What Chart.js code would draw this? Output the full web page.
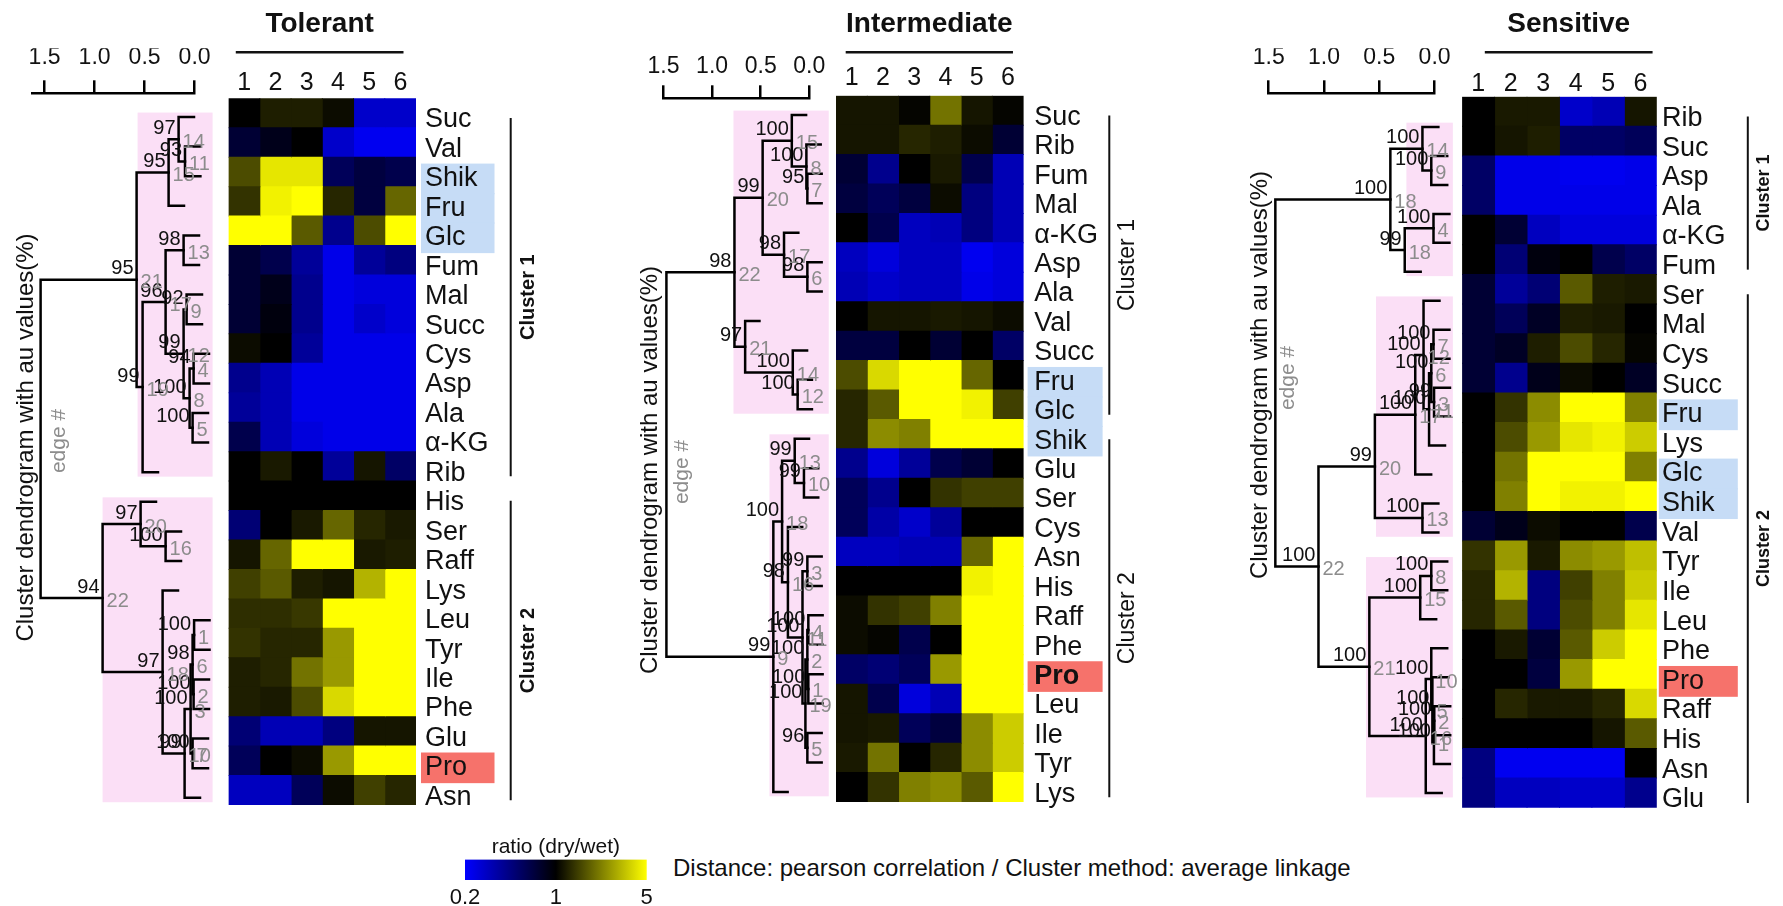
<!DOCTYPE html>
<html><head><meta charset="utf-8">
<script src="https://cdn.jsdelivr.net/npm/chart.js@4.4.1/dist/chart.umd.min.js"></script>
<style>
html,body{margin:0;padding:0;background:#fff;width:1783px;height:906px;overflow:hidden;}
#note{position:absolute;left:673px;top:854px;font:24px 'Liberation Sans',Arial,sans-serif;color:#111;white-space:nowrap;line-height:28px;}
</style></head><body>
<div id="note">Distance: pearson correlation / Cluster method: average linkage</div>
<script>
// ---------------- DATA ----------------
const colLabels = [1, 2, 3, 4, 5, 6];
const distTicks = [0, 0.5, 1.0, 1.5];
const legendTicks = [0.2, 1, 5];

const tolRows = ['Suc','Val','Shik','Fru','Glc','Fum','Mal','Succ','Cys','Asp','Ala','α-KG','Rib','His','Ser','Raff','Lys','Leu','Tyr','Ile','Phe','Glu','Pro','Asn'];
const tolValues = [
 [1.00,1.21,1.21,1.08,0.28,0.28],[0.72,0.85,1.00,0.28,0.22,0.22],[1.62,4.26,4.26,0.57,0.67,0.62],
 [1.38,4.61,5.00,1.27,0.67,1.90],[5.00,5.00,1.76,0.41,1.62,5.00],[0.72,0.62,0.38,0.23,0.38,0.45],
 [0.72,0.85,0.41,0.23,0.25,0.25],[0.72,0.92,0.41,0.23,0.28,0.25],[1.08,1.00,0.38,0.23,0.23,0.23],
 [0.41,0.32,0.23,0.23,0.23,0.23],[0.38,0.32,0.23,0.23,0.23,0.23],[0.62,0.32,0.25,0.23,0.23,0.23],
 [1.00,1.17,1.00,0.38,1.14,0.53],[1.00,1.00,1.00,1.00,1.00,1.00],[0.48,1.00,1.17,1.90,1.27,1.17],
 [1.14,1.90,5.00,5.00,1.17,1.21],[1.50,1.76,1.21,1.14,3.09,5.00],[1.34,1.34,1.42,5.00,5.00,5.00],
 [1.38,1.27,1.27,2.63,5.00,5.00],[1.21,1.27,2.06,2.63,5.00,5.00],[1.21,1.17,1.62,3.93,5.00,5.00],
 [0.48,0.32,0.32,0.45,1.14,1.14],[0.57,1.00,1.08,2.63,5.00,5.00],[0.30,0.30,0.57,1.08,1.50,1.27]
];
// [left, right, height, au, edge]  (number = leaf row, 'mK' = earlier merge K)
const tolMerges = [
 [1,2,0.096,93,11],[0,'m0',0.16,97,14],['m1',3,0.26,95,15],[4,5,0.11,98,13],[6,7,0.08,92,9],
 [8,9,0.01,94,4],[10,11,0.02,100,5],['m5','m6',0.05,100,8],['m4','m7',0.11,99,12],['m3','m8',0.29,96,17],
 ['m9',12,0.52,99,19],['m2','m10',0.58,95,21],[14,15,0.29,100,16],[13,'m12',0.54,97,20],
 [17,18,0.005,100,1],[19,20,0.01,100,2],['m14','m15',0.02,98,6],[21,22,0.02,100,7],
 ['m16','m17',0.04,100,3],['m18',23,0.10,99,10],[16,'m19',0.32,97,18],['m13','m20',0.92,94,22],
 ['m11','m21',1.54,'','']
];
const tolBoxes = [[0,12,0.57,-0.18],[13,23,0.92,-0.18]];

const intRows = ['Suc','Rib','Fum','Mal','α-KG','Asp','Ala','Val','Succ','Fru','Glc','Shik','Glu','Ser','Cys','Asn','His','Raff','Phe','Pro','Leu','Ile','Tyr','Lys'];
const intValues = [
 [1.14,1.14,1.03,2.06,1.14,1.03],[1.14,1.14,1.27,1.21,1.08,0.72],[0.72,0.41,1.00,1.17,0.62,0.32],
 [0.67,0.57,0.67,1.08,0.45,0.32],[1.00,0.62,0.30,0.32,0.45,0.32],[0.30,0.25,0.30,0.30,0.22,0.25],
 [0.32,0.28,0.30,0.30,0.23,0.25],[1.00,1.14,1.14,1.17,1.14,1.08],[0.67,0.67,1.00,0.72,1.00,0.53],
 [1.62,3.93,5.00,5.00,1.90,1.00],[1.27,1.76,5.00,5.00,4.61,1.50],[1.27,2.42,2.24,5.00,5.00,5.00],
 [0.41,0.25,0.38,0.62,0.72,1.00],[0.57,0.41,1.00,1.38,1.50,1.50],[0.57,0.35,0.28,0.38,1.00,1.00],
 [0.30,0.30,0.32,0.32,1.90,5.00],[1.00,1.00,1.00,1.00,4.61,5.00],[1.08,1.38,1.50,2.24,5.00,5.00],
 [1.08,1.03,0.62,1.00,5.00,5.00],[0.53,0.48,0.57,2.63,5.00,5.00],[1.14,0.62,0.25,0.32,5.00,5.00],
 [1.14,1.17,0.57,0.67,2.42,3.62],[1.17,2.06,1.00,1.27,2.42,3.62],[1.00,1.38,2.24,2.42,1.76,5.00]
];
const intMerges = [
 [2,3,0.02,95,7],[1,'m0',0.03,100,8],[0,'m1',0.18,100,15],[5,6,0.02,98,6],[4,'m3',0.26,98,17],
 ['m2','m4',0.48,99,20],[9,10,0.12,100,12],[8,'m6',0.17,100,14],[7,'m7',0.66,97,21],['m5','m8',0.77,98,22],
 [12,13,0.055,99,10],[11,'m10',0.15,99,13],[15,16,0.02,99,3],[17,18,0.01,100,4],[19,20,0.01,100,1],
 ['m13','m14',0.02,100,2],[21,22,0.02,96,5],['m15','m16',0.04,100,19],['m12','m17',0.07,100,11],
 [14,'m18',0.22,98,16],['m11','m19',0.28,100,18],['m20',23,0.37,99,9],['m9','m21',1.47,'','']
];
const intBoxes = [[0,10,0.78,-0.2],[11,23,0.41,-0.2]];

const senRows = ['Rib','Suc','Asp','Ala','α-KG','Fum','Ser','Mal','Cys','Succ','Fru','Lys','Glc','Shik','Val','Tyr','Ile','Leu','Phe','Pro','Raff','His','Asn','Glu'];
const senValues = [
 [1.00,1.17,1.17,0.28,0.32,1.14],[1.00,1.14,1.21,0.53,0.53,0.57],[0.53,0.23,0.23,0.22,0.22,0.23],
 [0.53,0.23,0.23,0.23,0.23,0.23],[1.00,0.72,0.30,0.25,0.25,0.25],[1.00,0.48,0.92,1.00,0.62,0.53],
 [0.72,0.38,0.48,1.76,1.21,1.17],[0.72,0.57,0.79,1.21,1.17,1.00],[0.72,0.79,1.21,1.62,1.27,1.03],
 [0.72,0.41,0.85,1.08,1.00,0.79],[1.00,1.38,2.42,5.00,5.00,2.24],[1.00,1.62,2.63,4.26,4.61,3.62],
 [1.00,2.06,5.00,5.00,5.00,2.24],[1.00,2.24,5.00,4.61,4.61,5.00],[0.72,0.85,1.08,1.00,1.00,0.62],
 [1.38,2.63,1.17,2.42,2.63,3.34],[1.27,3.09,0.45,1.50,2.24,3.62],[1.27,1.76,0.45,1.62,2.24,4.26],
 [1.00,1.17,0.72,1.76,3.62,5.00],[1.00,1.00,0.67,2.63,5.00,5.00],[1.00,1.27,1.17,1.17,1.27,3.93],
 [1.00,1.00,1.00,1.00,1.14,1.76],[0.45,0.22,0.22,0.22,0.22,1.00],[0.45,0.30,0.30,0.28,0.28,0.41]
];
const senMerges = [
 [1,2,0.03,100,9],[0,'m0',0.11,100,14],[3,4,0.01,100,4],['m2',5,0.27,99,18],['m1','m3',0.40,100,18],
 [7,8,0.01,100,7],[9,10,0.005,99,3],['m5','m6',0.03,100,6],['m7',11,0.05,100,11],[6,'m8',0.10,100,12],
 ['m9',12,0.175,100,17],[13,14,0.11,100,13],['m10','m11',0.54,99,20],[15,16,0.03,100,8],['m13',17,0.13,100,15],
 [20,21,0.003,100,2],['m15',22,0.006,100,1],[19,'m16',0.02,100,5],[18,'m17',0.03,100,10],['m18',23,0.08,100,16],
 ['m14','m19',0.59,100,21],['m12','m20',1.05,100,22],['m4','m21',1.44,'','']
];
const senBoxes = [[0,5,0.255,-0.165],[6,14,0.53,-0.165],[15,23,0.62,-0.165]];

// ---------------- LAYOUT / STYLE ----------------
const FONT = "'Liberation Sans', Arial, Helvetica, sans-serif";
const NARROW = "'Liberation Sans Narrow', 'Arial Narrow', 'Liberation Sans', sans-serif";
const BLUE_HL = '#c6dcf6', RED_HL = '#f6726b', PINK = '#fbdff6', GREY = '#8c8c8c';
Chart.defaults.font.family = FONT;
Chart.defaults.color = '#111';

const panels = [
 { title:'Tolerant', rows:tolRows, values:tolValues, merges:tolMerges, boxes:tolBoxes,
   blue:['Shik','Fru','Glc'], red:['Pro'], bold:[],
   clusters:[{from:'Suc',to:'Rib',text:'Cluster 1'},{from:'His',to:'Asn',text:'Cluster 2'}],
   heat:{cLeft:200,cWidth:360,left:228.6,right:416,top:98.3,bottom:805,colCY:83.3,rowLabelX:425,yW:90,
         box:[5,78.5],clusterDX:94.7,textDX:18,underline:[0.73,6.10],clusterFont:'bold 20px'},
   dend:{cLeft:0,cWidth:228,zero:194.6,ppu:100,maxH:1.62,axisY:93.3,tickCY:58,titleX:26.8,titleCY:437.5,
         leaf0:117,step:29.6,edgeX:59,edgeY:441} },
 { title:'Intermediate', rows:intRows, values:intValues, merges:intMerges, boxes:intBoxes,
   blue:['Fru','Glc','Shik'], red:['Pro'], bold:['Pro'],
   clusters:[{from:'Suc',to:'Glc',text:'Cluster 1'},{from:'Shik',to:'Lys',text:'Cluster 2'}],
   heat:{cLeft:800,cWidth:360,left:836,right:1023.6,top:95.7,bottom:802,colCY:78.3,rowLabelX:1034.3,yW:80,
         box:[4,79],clusterDX:85.7,textDX:18,underline:[0.81,6.16],clusterFont:'23px'},
   dend:{cLeft:620,cWidth:215,zero:809.3,ppu:97.2,maxH:1.5,axisY:98.3,tickCY:66.7,titleX:650.4,titleCY:470,
         leaf0:115,step:29.43,edgeX:682.5,edgeY:472} },
 { title:'Sensitive', rows:senRows, values:senValues, merges:senMerges, boxes:senBoxes,
   blue:['Fru','Glc','Shik'], red:['Pro'], bold:[],
   clusters:[{from:'Rib',to:'Fum',text:'Cluster 1'},{from:'Ser',to:'Glu',text:'Cluster 2'}],
   heat:{cLeft:1430,cWidth:353,left:1462.1,right:1656.8,top:96.7,bottom:807.7,colCY:84,rowLabelX:1662,yW:80,
         box:[2,81],clusterDX:91,textDX:16.6,underline:[1.2,6.37],clusterFont:'bold 18px'},
   dend:{cLeft:1230,cWidth:231,zero:1434.6,ppu:110.6,maxH:1.5,axisY:93.3,tickCY:58,titleX:1260,titleCY:375,
         leaf0:127,step:28.96,edgeX:1288.2,edgeY:378} }
];
const LABEL_OFFSET = 7;

function makeCanvas(left, top, w, h) {
  const c = document.createElement('canvas');
  c.width = w; c.height = h;
  c.style.cssText = `position:absolute;left:${left}px;top:${top}px;width:${w}px;height:${h}px;`;
  document.body.appendChild(c);
  return c;
}
function heatColor(r) {
  const t = Math.max(-1, Math.min(1, Math.log(r) / Math.log(5)));
  if (t < 0) return `rgb(0,0,${Math.round(-t * 255)})`;
  const c = Math.round(t * 255);
  return `rgb(${c},${c},0)`;
}

// ---------------- HEATMAPS ----------------
function heatmap(p) {
  const H = p.heat;
  const cv = makeCanvas(H.cLeft, 0, H.cWidth, 906);
  const datasets = colLabels.map((col, j) => ({
    data: p.rows.map(() => [col - 0.5, col + 0.5]),
    backgroundColor: p.values.map(r => heatColor(r[j])),
    borderWidth: 0, barPercentage: 1, categoryPercentage: 1, grouped: false, inflateAmount: 0.5
  }));
  const decor = {
    id: 'heatDecor',
    beforeDraw(chart) {
      const ctx = chart.ctx, ys = chart.scales.y, a = chart.chartArea;
      const rh = (a.bottom - a.top) / p.rows.length;
      ctx.save();
      [[p.blue, BLUE_HL], [p.red, RED_HL]].forEach(([labs, col]) => {
        labs.forEach(lab => {
          const cy = ys.getPixelForValue(p.rows.indexOf(lab)) + LABEL_OFFSET;
          ctx.fillStyle = col;
          ctx.fillRect(a.right + H.box[0], cy - rh / 2 - 0.6, H.box[1] - H.box[0], rh + 1.2);
        });
      });
      ctx.restore();
    },
    afterDraw(chart) {
      const ctx = chart.ctx, xs = chart.scales.x, ys = chart.scales.y, a = chart.chartArea;
      const x0 = xs.getPixelForValue(H.underline[0]), x1 = xs.getPixelForValue(H.underline[1]);
      ctx.save();
      ctx.fillStyle = '#111'; ctx.strokeStyle = '#111';
      ctx.font = `bold 28px ${FONT}`; ctx.textAlign = 'center'; ctx.textBaseline = 'middle';
      ctx.fillText(p.title, (x0 + x1) / 2, 24);
      ctx.lineWidth = 2.5; ctx.beginPath(); ctx.moveTo(x0, 52.3); ctx.lineTo(x1, 52.3); ctx.stroke();
      const lx = a.right + H.clusterDX;
      p.clusters.forEach(c => {
        const y0 = ys.getPixelForValue(p.rows.indexOf(c.from)) + 5;
        const y1 = ys.getPixelForValue(p.rows.indexOf(c.to)) + 10;
        ctx.lineWidth = 2; ctx.beginPath(); ctx.moveTo(lx, y0); ctx.lineTo(lx, y1); ctx.stroke();
        ctx.save();
        ctx.translate(lx + H.textDX, (y0 + y1) / 2); ctx.rotate(-Math.PI / 2);
        ctx.font = `${H.clusterFont} ${FONT}`; ctx.textAlign = 'center'; ctx.textBaseline = 'middle';
        ctx.fillText(c.text, 0, 0);
        ctx.restore();
      });
      ctx.restore();
    }
  };
  new Chart(cv, {
    type: 'bar',
    data: { labels: p.rows, datasets },
    options: {
      indexAxis: 'y', responsive: false, animation: false, events: [],
      layout: { padding: { left: H.left - H.cLeft, right: H.cWidth - (H.right - H.cLeft) - H.yW,
                           top: H.top - 30, bottom: 906 - H.bottom } },
      plugins: { legend: { display: false }, tooltip: { enabled: false }, title: { display: false } },
      scales: {
        x: { type: 'linear', position: 'top', min: 0.5, max: 6.5,
             grid: { display: false, drawTicks: false, tickLength: 0 }, border: { display: false },
             afterBuildTicks: s => { s.ticks = colLabels.map(v => ({ value: v })); },
             afterFit: s => { s.height = 30; },
             ticks: { font: { family: FONT, size: 25, lineHeight: 1 }, color: '#111',
                      padding: H.top - H.colCY - 12.5, maxRotation: 0, autoSkip: false } },
        y: { type: 'category', position: 'right',
             grid: { display: false, drawTicks: false, tickLength: 0 }, border: { display: false },
             afterFit: s => { s.width = H.yW; },
             ticks: { font: ctx => ({ family: FONT, size: 27, lineHeight: 1,
                        weight: p.bold.includes(p.rows[ctx.index]) ? 'bold' : 'normal' }),
                      color: '#111', padding: H.rowLabelX - H.right, labelOffset: LABEL_OFFSET, autoSkip: false } }
      }
    },
    plugins: [decor]
  });
}

// ---------------- DENDROGRAMS ----------------
function dendrogram(p) {
  const D = p.dend;
  const cv = makeCanvas(D.cLeft, 0, D.cWidth, 906);
  const nodes = [];
  const get = c => typeof c === 'number' ? { leaf: true, y: c, h: 0 } : nodes[+c.slice(1)];
  p.merges.forEach(m => {
    const a = get(m[0]), b = get(m[1]);
    nodes.push({ a, b, h: m[2], y: (a.y + b.y) / 2, au: m[3], edge: m[4] });
  });
  const hang = 0.1 * nodes[nodes.length - 1].h;
  const end = (n, c) => c.leaf ? n.h - hang : c.h;
  const datasets = nodes.map(n => ({
    data: [{ x: end(n, n.a), y: n.a.y }, { x: n.h, y: n.a.y }, { x: n.h, y: n.b.y }, { x: end(n, n.b), y: n.b.y }],
    showLine: true, borderColor: '#000', borderWidth: 2.5, pointRadius: 0, fill: false, tension: 0,
    clip: false, borderJoinStyle: 'miter', borderCapStyle: 'square'
  }));
  const chartLeft = D.zero - D.maxH * D.ppu;
  const chartBottom = 2 * D.titleCY - D.axisY;
  const yMin = -(D.leaf0 - D.axisY) / D.step;
  const yMax = yMin + (chartBottom - D.axisY) / D.step;
  const decor = {
    id: 'dendDecor',
    beforeDatasetsDraw(chart) {
      const ctx = chart.ctx, xs = chart.scales.x, ys = chart.scales.y;
      ctx.save(); ctx.fillStyle = PINK;
      p.boxes.forEach(b => {
        const xl = xs.getPixelForValue(b[2]), xr = xs.getPixelForValue(b[3]);
        const yt = ys.getPixelForValue(b[0] - 0.15), yb = ys.getPixelForValue(b[1] + 0.15);
        ctx.fillRect(xl, yt, xr - xl, yb - yt);
      });
      ctx.restore();
    },
    afterDatasetsDraw(chart) {
      const ctx = chart.ctx, xs = chart.scales.x, ys = chart.scales.y;
      ctx.save();
      ctx.font = `20px ${FONT}`; ctx.textBaseline = 'middle';
      nodes.forEach(n => {
        const px = xs.getPixelForValue(n.h), py = ys.getPixelForValue(n.y);
        if (n.au !== '') { ctx.fillStyle = '#111'; ctx.textAlign = 'right'; ctx.fillText(String(n.au), px - 3, py - 11); }
        if (n.edge !== '') { ctx.fillStyle = GREY; ctx.textAlign = 'left'; ctx.fillText(String(n.edge), px + 4, py + 3); }
      });
      ctx.translate(D.edgeX - D.cLeft, D.edgeY); ctx.rotate(-Math.PI / 2);
      ctx.font = `21px ${FONT}`; ctx.fillStyle = GREY; ctx.textAlign = 'center';
      ctx.fillText('edge #', 0, 0);
      ctx.restore();
    }
  };
  new Chart(cv, {
    type: 'scatter',
    data: { datasets },
    options: {
      responsive: false, animation: false, events: [],
      layout: { padding: { left: 0, right: D.cLeft + D.cWidth - D.zero, top: D.axisY - 45, bottom: 906 - chartBottom } },
      plugins: { legend: { display: false }, tooltip: { enabled: false } },
      scales: {
        x: { type: 'linear', position: 'top', reverse: true, min: 0, max: D.maxH,
             afterBuildTicks: s => { s.ticks = distTicks.map(v => ({ value: v })); },
             afterFit: s => { s.height = 45; },
             grid: { display: true, drawOnChartArea: false, drawTicks: true, tickLength: 13, color: '#000', lineWidth: 2.5 },
             border: { display: true, color: '#000', width: 2.5 },
             ticks: { font: { family: FONT, size: 23, lineHeight: 1 }, color: '#111',
                      padding: D.axisY - 13 - 11.5 - D.tickCY, callback: v => Number(v).toFixed(1),
                      maxRotation: 0, autoSkip: false } },
        y: { type: 'linear', position: 'left', reverse: true, min: yMin, max: yMax,
             afterFit: s => { s.width = chartLeft - D.cLeft; },
             grid: { display: false }, border: { display: false }, ticks: { display: false },
             title: { display: true, text: 'Cluster dendrogram with au values(%)',
                      font: { family: FONT, size: 24, lineHeight: 1.2 }, color: '#111',
                      padding: { top: D.titleX - D.cLeft - 14.4, bottom: 0 } } }
      }
    },
    plugins: [decor]
  });
}

panels.forEach(p => { heatmap(p); dendrogram(p); });

// ---------------- COLOUR KEY ----------------
const lc = makeCanvas(420, 826, 270, 80);
new Chart(lc, {
  type: 'bar',
  data: { labels: ['ratio'], datasets: [{
    data: [[legendTicks[0], legendTicks[2]]],
    backgroundColor: ctx => {
      const a = ctx.chart.chartArea; if (!a) return '#000';
      const g = ctx.chart.ctx.createLinearGradient(a.left, 0, a.right, 0);
      g.addColorStop(0, '#0000ff'); g.addColorStop(0.5, '#000000'); g.addColorStop(1, '#ffff00');
      return g;
    },
    barPercentage: 1, categoryPercentage: 1, borderWidth: 0 }] },
  options: {
    indexAxis: 'y', responsive: false, animation: false, events: [],
    layout: { padding: { left: 45, right: 43.3, top: 0, bottom: 0 } },
    plugins: { legend: { display: false }, tooltip: { enabled: false },
      title: { display: true, text: 'ratio (dry/wet)', font: { family: NARROW, size: 21, lineHeight: 1.2, weight: 'normal' },
               color: '#111', padding: { top: 8.4, bottom: 0 } } },
    scales: {
      x: { type: 'logarithmic', position: 'bottom', min: 0.2, max: 5,
           grid: { display: false, drawTicks: false, tickLength: 0 }, border: { display: false },
           afterBuildTicks: s => { s.ticks = legendTicks.map(v => ({ value: v })); },
           afterFit: s => { s.height = 26; },
           ticks: { font: { family: NARROW, size: 22, lineHeight: 1 }, color: '#111', padding: 7,
                    callback: v => String(v), maxRotation: 0, autoSkip: false } },
      y: { display: false }
    }
  }
});
</script>
</body></html>
